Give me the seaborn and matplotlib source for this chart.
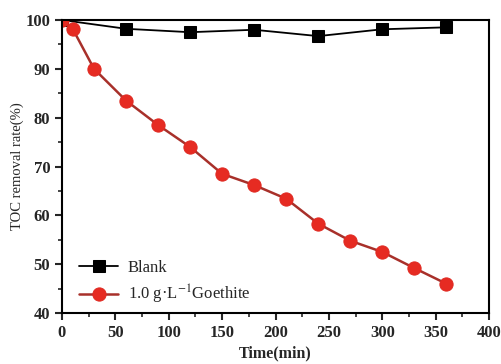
import matplotlib
matplotlib.use("Agg")
import matplotlib.pyplot as plt
from matplotlib.ticker import MultipleLocator
import seaborn as sns
import pandas as pd

blank_time = [0, 60, 120, 180, 240, 300, 360]
blank_toc = [100, 98.2, 97.5, 98.0, 96.7, 98.1, 98.5]

goethite_time = [0, 10, 30, 60, 90, 120, 150, 180, 210, 240, 270, 300, 330, 360]
goethite_toc = [100, 98.2, 90.0, 83.5, 78.5, 74.0, 68.5, 66.2, 63.4, 58.3, 54.8, 52.5, 49.2, 46.0]

sns.set_theme(style="ticks")
plt.rcParams["font.family"] = ["Liberation Serif", "DejaVu Serif"]
plt.rcParams["mathtext.fontset"] = "stix"

fig = plt.figure(figsize=(5.01, 3.64), dpi=100)
ax = fig.add_axes([62 / 501, 1 - 313 / 364, (489 - 62) / 501, (313 - 20) / 364])

df_blank = pd.DataFrame({"t": blank_time, "v": blank_toc})
df_goe = pd.DataFrame({"t": goethite_time, "v": goethite_toc})

sns.lineplot(data=df_blank, x="t", y="v", ax=ax, color="black", lw=1.3,
             marker="s", markersize=8, markeredgecolor="black",
             markerfacecolor="black", label="Blank")
sns.lineplot(data=df_goe, x="t", y="v", ax=ax, color="#a8302a", lw=1.8,
             marker="o", markersize=9.5, markeredgecolor="#e02a22",
             markerfacecolor="#e62b22", label="1.0 g·L$^{-1}$Goethite")

ax.set_xlim(0, 400)
ax.set_ylim(40, 100)
ax.xaxis.set_major_locator(MultipleLocator(50))
ax.xaxis.set_minor_locator(MultipleLocator(25))
ax.yaxis.set_major_locator(MultipleLocator(10))
ax.yaxis.set_minor_locator(MultipleLocator(5))
ax.tick_params(which="major", direction="out", length=5, width=1.5, labelsize=12)
ax.tick_params(which="minor", direction="out", length=3, width=1.2)
for lab in ax.get_xticklabels() + ax.get_yticklabels():
    lab.set_fontweight("bold")
for s in ax.spines.values():
    s.set_linewidth(1.5)
    s.set_color("black")

ax.set_xlabel("Time(min)", fontsize=11.5, fontweight="bold", labelpad=3)
ax.set_ylabel("TOC removal rate(%)", fontsize=10.5, labelpad=1)

leg = ax.legend(loc="lower left", frameon=False, fontsize=12,
                handlelength=2.3, handletextpad=0.6, labelspacing=0.45,
                borderaxespad=0.0, bbox_to_anchor=(0.025, 0.0))

fig.savefig("out.png", dpi=100)
